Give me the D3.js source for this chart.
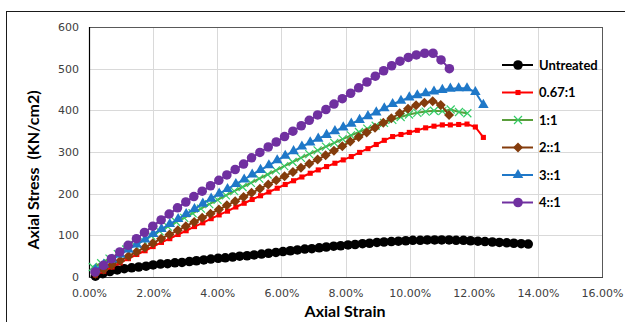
<!DOCTYPE html>
<html>
<head>
<meta charset="utf-8">
<script src="https://cdn.jsdelivr.net/npm/d3@7"></script>
<style>
  body { margin: 0; background: #fff; }
  svg { display: block; }
</style>
</head>
<body>
<div id="chart"></div>
<script>
// ---- data (strain in %, stress in KN/cm2) ----
var strainBlack = [0.20,0.43,0.65,0.88,1.10,1.33,1.55,1.78,2.00,2.23,2.45,2.68,2.90,3.13,3.35,3.58,3.80,4.03,4.25,4.48,4.70,4.93,5.15,5.38,5.60,5.83,6.05,6.28,6.50,6.73,6.95,7.18,7.40,7.63,7.85,8.08,8.30,8.53,8.75,8.98,9.20,9.43,9.65,9.88,10.10,10.33,10.55,10.78,11.00,11.23,11.45,11.68,11.90,12.13,12.35,12.58,12.80,13.03,13.25,13.48,13.70];
var stressUntreated = [2,8,13,17,20,22,24,26,29,31,32,34,35,37,39,41,43,45,46,48,50,51,53,55,57,59,61,63,65,67,68,70,72,74,75,77,78,80,81,83,84,85,86,87,88,88,89,89,89,89,88,88,87,86,85,84,83,82,81,80,79];

var strainLong = [0.20,0.46,0.72,0.97,1.23,1.49,1.75,2.00,2.26,2.52,2.78,3.03,3.29,3.55,3.81,4.06,4.32,4.58,4.84,5.09,5.35,5.61,5.87,6.12,6.38,6.64,6.90,7.15,7.41,7.67,7.93,8.18,8.44,8.70,8.96,9.21,9.47,9.73,9.99,10.24,10.50,10.76,11.02,11.27,11.53,11.79,12.05,12.30];
var stress067 = [5,14,24,34,44,54,63,73,83,92,102,111,121,130,140,149,158,168,177,186,195,204,213,222,231,240,249,257,265,273,281,289,299,308,318,328,337,342,347,352,358,362,365,365,366,367,360,335];
var stress3 = [18,30,42,54,66,78,90,103,115,127,139,151,163,176,188,200,211,223,234,246,257,268,280,291,302,313,323,332,341,350,359,368,377,386,395,405,415,423,431,436,441,445,449,452,453,453,444,413];

var strain1 = [0.12,0.38,0.64,0.90,1.16,1.42,1.68,1.94,2.20,2.46,2.72,2.97,3.23,3.49,3.75,4.01,4.27,4.53,4.79,5.05,5.31,5.57,5.83,6.09,6.35,6.61,6.87,7.13,7.39,7.65,7.91,8.17,8.42,8.68,8.94,9.20,9.46,9.72,9.98,10.24,10.50,10.76,11.02,11.28,11.54,11.80];
var stress1 = [24,33,44,55,66,77,88,99,110,121,132,142,153,164,175,185,196,206,216,226,236,246,256,266,276,286,295,304,313,322,331,340,348,356,363,370,377,384,390,394,397,399,398,402,396,393];

var strain2 = [0.20,0.46,0.71,0.97,1.23,1.48,1.74,1.99,2.25,2.51,2.77,3.02,3.28,3.53,3.79,4.05,4.30,4.56,4.82,5.07,5.33,5.59,5.84,6.10,6.36,6.61,6.87,7.13,7.38,7.64,7.90,8.15,8.41,8.66,8.92,9.18,9.43,9.69,9.95,10.20,10.46,10.72,10.97,11.23];
var stress2 = [8,18,29,39,50,60,71,81,92,102,112,122,132,142,152,162,172,182,192,202,212,222,232,242,252,262,272,282,292,303,314,325,336,347,358,370,381,393,404,412,418,422,413,389];

var strain4 = [0.19,0.45,0.70,0.96,1.22,1.48,1.73,1.99,2.25,2.50,2.76,3.02,3.27,3.53,3.79,4.05,4.30,4.56,4.82,5.07,5.33,5.59,5.84,6.10,6.36,6.62,6.87,7.13,7.39,7.64,7.90,8.16,8.41,8.67,8.93,9.19,9.44,9.70,9.96,10.21,10.47,10.73,10.98,11.24];
var stress4 = [12,28,44,60,76,92,107,122,137,151,166,180,193,206,219,232,245,258,271,286,299,312,324,337,350,363,376,389,402,415,428,441,454,468,482,495,507,518,527,533,537,537,521,500];

var seriesNames = ["Untreated", "0.67:1", "1:1", "2::1", "3::1", "4::1"];
var xTicks = [0, 2, 4, 6, 8, 10, 12, 14, 16];
var yTicks = [0, 100, 200, 300, 400, 500, 600];

// ---- layout ----
var W = 625, H = 322;
var plot = {left: 89, right: 602, top: 27, bottom: 277};

var xScale = d3.scaleLinear().domain([0, 16]).range([plot.left, plot.right]);
var yScale = d3.scaleLinear().domain([0, 600]).range([plot.bottom, plot.top]);

var svg = d3.select("#chart").append("svg")
    .attr("width", W).attr("height", H);

// outer chart border (cropped at right and bottom)
svg.append("rect").attr("x", 6.5).attr("y", 11.5)
    .attr("width", W).attr("height", H)
    .attr("fill", "#fff").attr("stroke", "#1a1a1a").attr("stroke-width", 1);

// grid
svg.append("g").selectAll("line.gx").data(xTicks).enter().append("line")
    .attr("x1", function(d){ return Math.round(xScale(d)) + 0.5; })
    .attr("x2", function(d){ return Math.round(xScale(d)) + 0.5; })
    .attr("y1", plot.top).attr("y2", plot.bottom)
    .attr("stroke", "#d9d9d9").attr("stroke-width", 1);
svg.append("g").selectAll("line.gy").data(yTicks).enter().append("line")
    .attr("x1", plot.left).attr("x2", plot.right)
    .attr("y1", function(d){ return Math.round(yScale(d)) + 0.5; })
    .attr("y2", function(d){ return Math.round(yScale(d)) + 0.5; })
    .attr("stroke", "#d9d9d9").attr("stroke-width", 1);

// plot frame
svg.append("rect").attr("x", plot.left + 0.5).attr("y", plot.top + 0.5)
    .attr("width", plot.right - plot.left).attr("height", plot.bottom - plot.top)
    .attr("fill", "none").attr("stroke", "#595959").attr("stroke-width", 1);
svg.append("line").attr("x1", plot.left + 0.5).attr("x2", plot.left + 0.5)
    .attr("y1", plot.top).attr("y2", plot.bottom + 1)
    .attr("stroke", "#000").attr("stroke-width", 1.2);
svg.append("line").attr("x1", plot.left).attr("x2", plot.right + 1)
    .attr("y1", plot.bottom + 0.5).attr("y2", plot.bottom + 0.5)
    .attr("stroke", "#404040").attr("stroke-width", 1.2);

// axes (labels only, via d3 axes)
var xAxis = d3.axisBottom(xScale).tickValues(xTicks).tickSize(0).tickPadding(12)
    .tickFormat(function(d){ return d.toFixed(2) + "%"; });
var yAxis = d3.axisLeft(yScale).tickValues(yTicks).tickSize(0).tickPadding(10);

var gx = svg.append("g").attr("transform", "translate(0," + plot.bottom + ")").call(xAxis);
var gy = svg.append("g").attr("transform", "translate(" + plot.left + ",0)").call(yAxis);
[gx, gy].forEach(function(g){
  g.select(".domain").remove();
  g.selectAll("text").attr("fill", "#404040")
    .style("font-family", "DejaVu Sans").style("font-size", "11px");
});

// axis titles
svg.append("text").attr("x", 345).attr("y", 317).attr("text-anchor", "middle")
    .style("font-family", "Lato").style("font-weight", "bold").style("font-size", "16px")
    .attr("fill", "#000").text("Axial Strain");
svg.append("text").attr("transform", "translate(39,170) rotate(-90)")
    .attr("text-anchor", "middle")
    .style("font-family", "Lato").style("font-weight", "bold").style("font-size", "16px")
    .style("white-space", "pre").attr("fill", "#000").text("Axial Stress  (KN/cm2)");

// series definitions
function xPath(s) { return "M" + (-s) + "," + (-s) + "L" + s + "," + s + "M" + (-s) + "," + s + "L" + s + "," + (-s); }
function diamondPath(s) { return "M0," + (-s) + "L" + s + ",0L0," + s + "L" + (-s) + ",0Z"; }

var series = [
  {name: seriesNames[0], strain: strainBlack, stress: stressUntreated, line: "#000000", fill: "#000000",
   symbol: d3.symbol(d3.symbolCircle, 72)()},
  {name: seriesNames[1], strain: strainLong, stress: stress067, line: "#ff0000", fill: "#ff0000",
   symbol: d3.symbol(d3.symbolSquare, 26)()},
  {name: seriesNames[2], strain: strain1, stress: stress1, line: "#5a9e3c", fill: "none", stroke: "#33cc66",
   symbol: xPath(4)},
  {name: seriesNames[3], strain: strain2, stress: stress2, line: "#843c0c", fill: "#843c0c",
   symbol: diamondPath(5)},
  {name: seriesNames[4], strain: strainLong, stress: stress3, line: "#1f78c8", fill: "#1f78c8",
   symbol: d3.symbol(d3.symbolTriangle, 48)()},
  {name: seriesNames[5], strain: strain4, stress: stress4, line: "#7030a0", fill: "#7030a0",
   symbol: d3.symbol(d3.symbolCircle, 72)()}
];

var line = d3.line()
    .x(function(d){ return xScale(d[0]); })
    .y(function(d){ return yScale(d[1]); });

series.forEach(function(s) {
  var pts = s.strain.map(function(v, i){ return [v, s.stress[i]]; });
  var g = svg.append("g");
  g.append("path").datum(pts).attr("d", line)
      .attr("fill", "none").attr("stroke", s.line).attr("stroke-width", 2);
  g.selectAll("path.m").data(pts).enter().append("path").attr("class", "m")
      .attr("transform", function(d){ return "translate(" + xScale(d[0]) + "," + yScale(d[1]) + ")"; })
      .attr("d", s.symbol)
      .attr("fill", s.fill)
      .attr("stroke", s.stroke || "none")
      .attr("stroke-width", s.stroke ? 1.2 : 0);
});

// legend
var legend = svg.append("g").attr("transform", "translate(502,65)");
var item = legend.selectAll("g").data(series).enter().append("g")
    .attr("transform", function(d, i){ return "translate(0," + (i * 27.5) + ")"; });
item.append("line").attr("x1", 0).attr("x2", 31).attr("y1", 0).attr("y2", 0)
    .attr("stroke", function(d){ return d.line; }).attr("stroke-width", 2);
item.append("path").attr("transform", "translate(16,0)")
    .attr("d", function(d){ return d.symbol; })
    .attr("fill", function(d){ return d.fill; })
    .attr("stroke", function(d){ return d.stroke || "none"; })
    .attr("stroke-width", function(d){ return d.stroke ? 1.2 : 0; });
item.append("text").attr("x", 37).attr("y", 0).attr("dy", "0.35em")
    .style("font-family", "Lato").style("font-weight", "bold").style("font-size", "13px")
    .attr("fill", "#000").text(function(d){ return d.name; });
</script>
</body>
</html>
